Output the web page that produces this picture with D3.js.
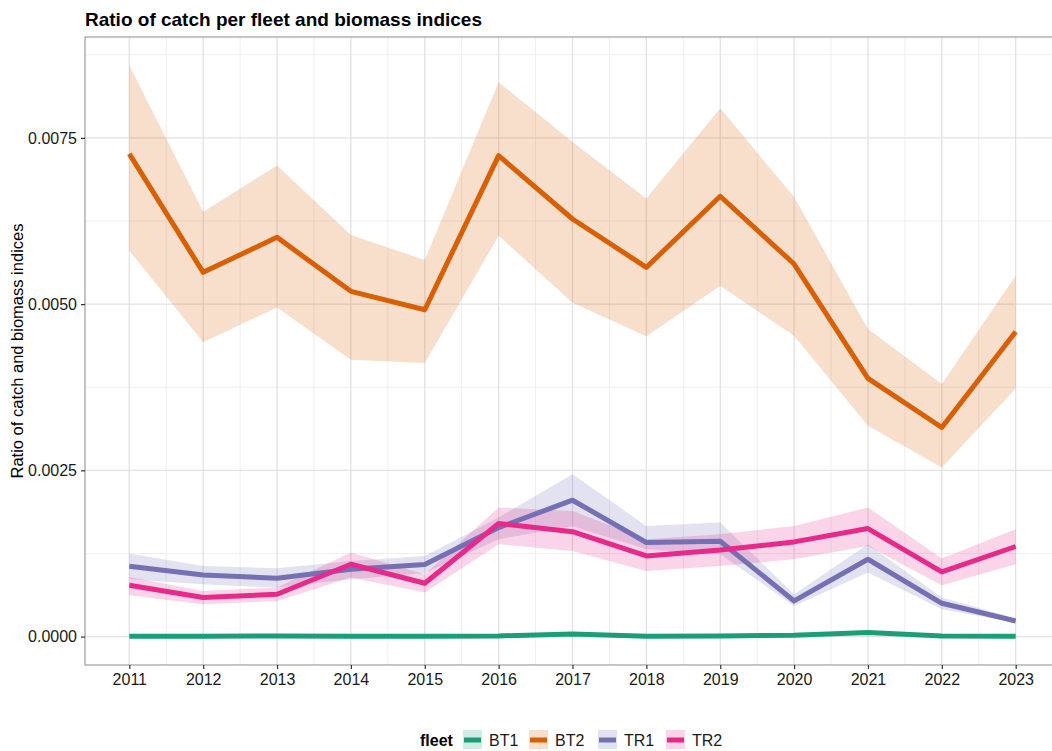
<!DOCTYPE html>
<html>
<head>
<meta charset="utf-8">
<script src="https://cdn.jsdelivr.net/npm/d3@7"></script>
<style>
  body { margin: 0; background: #fff; }
  svg { display: block; font-family: "Liberation Sans", Arial, sans-serif; }
</style>
</head>
<body>
<svg id="chart" width="1052" height="751"></svg>
<script>
// Ratio of catch per fleet to biomass indices, with confidence ribbons
const years = [2011, 2012, 2013, 2014, 2015, 2016, 2017, 2018, 2019, 2020, 2021, 2022, 2023];
const fleets = ["BT1", "BT2", "TR1", "TR2"];
const fleetColors = ["#1b9e77", "#d95f02", "#7570b3", "#e7298a"];
const yTicks = [0, 0.0025, 0.005, 0.0075];

const bt1Mean = [0.000005, 0.000005, 0.00001, 0.000005, 0.000005, 0.00001, 0.00004, 0.000005, 0.00001, 0.00002, 0.00006, 0.00001, 0.000005];
const bt1Low  = [0.000002, 0.000002, 0.000005, 0.000002, 0.000002, 0.000005, 0.00003, 0.000002, 0.000005, 0.000012, 0.000045, 0.000005, 0.000002];
const bt1High = [0.00001, 0.00001, 0.000016, 0.00001, 0.00001, 0.000016, 0.00005, 0.00001, 0.000016, 0.00003, 0.000075, 0.000016, 0.00001];

const bt2Mean = [0.007259, 0.005478, 0.006005, 0.005192, 0.004915, 0.007233, 0.006280, 0.005553, 0.006622, 0.005603, 0.003883, 0.003145, 0.004584];
const bt2Low  = [0.005803, 0.004425, 0.004951, 0.004163, 0.004113, 0.006029, 0.005021, 0.004515, 0.005277, 0.004524, 0.003170, 0.002543, 0.003732];
const bt2High = [0.008588, 0.006390, 0.007083, 0.006040, 0.005663, 0.008338, 0.007440, 0.006590, 0.007946, 0.006611, 0.004625, 0.003797, 0.005427];

const tr1Mean = [0.001058, 0.000927, 0.000877, 0.001013, 0.001084, 0.001640, 0.002051, 0.001415, 0.001434, 0.000536, 0.001163, 0.000501, 0.000235];
const tr1Low  = [0.000862, 0.000787, 0.000737, 0.000862, 0.000953, 0.001464, 0.001660, 0.001314, 0.001240, 0.000461, 0.000963, 0.000411, 0.000211];
const tr1High = [0.001249, 0.001063, 0.001028, 0.001138, 0.001213, 0.001791, 0.002443, 0.001665, 0.001716, 0.000637, 0.001389, 0.000587, 0.000271];

const tr2Mean = [0.000772, 0.000587, 0.000637, 0.001088, 0.000802, 0.001701, 0.001577, 0.001213, 0.001303, 0.001424, 0.001625, 0.000972, 0.001355];
const tr2Low  = [0.000622, 0.000486, 0.000536, 0.000888, 0.000662, 0.001389, 0.001288, 0.000987, 0.001063, 0.001163, 0.001364, 0.000772, 0.001088];
const tr2High = [0.000897, 0.000686, 0.000737, 0.001264, 0.000938, 0.001941, 0.001890, 0.001464, 0.001540, 0.001665, 0.001941, 0.001174, 0.001615];

const series = [
  { name: "BT1", mean: bt1Mean, low: bt1Low, high: bt1High },
  { name: "BT2", mean: bt2Mean, low: bt2Low, high: bt2High },
  { name: "TR1", mean: tr1Mean, low: tr1Low, high: tr1High },
  { name: "TR2", mean: tr2Mean, low: tr2Low, high: tr2High }
];

const svg = d3.select("#chart");
// the panel runs slightly past the right edge of the canvas
const panel = { left: 85, top: 37, right: 1060, bottom: 665 };

// ggplot-style 5% expansion on y, 0.6 units on x
const yMin = d3.min(series, s => d3.min(s.low));
const yMax = d3.max(series, s => d3.max(s.high));
const yPad = (yMax - yMin) * 0.05;
const y = d3.scaleLinear().domain([yMin - yPad, yMax + yPad]).range([panel.bottom, panel.top]);
const x = d3.scaleLinear().domain([years[0] - 0.6, years[years.length - 1] + 0.6]).range([panel.left, panel.right]);
const color = d3.scaleOrdinal().domain(fleets).range(fleetColors);

// grid
const grid = svg.append("g");
const minorY = yTicks.slice(0, -1).map((t, i) => (t + yTicks[i + 1]) / 2).concat([yTicks[yTicks.length - 1] + 0.00125]);
const minorX = years.slice(0, -1).map(v => v + 0.5);
grid.selectAll(".minY").data(minorY).join("line")
  .attr("x1", panel.left).attr("x2", panel.right)
  .attr("y1", d => y(d)).attr("y2", d => y(d))
  .attr("stroke", "#efefef").attr("stroke-width", 1);
grid.selectAll(".minX").data(minorX).join("line")
  .attr("y1", panel.top).attr("y2", panel.bottom)
  .attr("x1", d => x(d)).attr("x2", d => x(d))
  .attr("stroke", "#efefef").attr("stroke-width", 1);
grid.selectAll(".majY").data(yTicks).join("line")
  .attr("x1", panel.left).attr("x2", panel.right)
  .attr("y1", d => y(d)).attr("y2", d => y(d))
  .attr("stroke", "#e2e2e2").attr("stroke-width", 1.3);
grid.selectAll(".majX").data(years).join("line")
  .attr("y1", panel.top).attr("y2", panel.bottom)
  .attr("x1", d => x(d)).attr("x2", d => x(d))
  .attr("stroke", "#e2e2e2").attr("stroke-width", 1.3);

// ribbons
const area = d3.area()
  .x((d, i) => x(years[i]))
  .y0(d => y(d[0]))
  .y1(d => y(d[1]));
svg.append("g").selectAll("path").data(series).join("path")
  .attr("d", s => area(s.low.map((v, i) => [v, s.high[i]])))
  .attr("fill", s => color(s.name))
  .attr("fill-opacity", 0.2);

// mean lines
const line = d3.line().x((d, i) => x(years[i])).y(d => y(d));
svg.append("g").selectAll("path").data(series).join("path")
  .attr("d", s => line(s.mean))
  .attr("fill", "none")
  .attr("stroke", s => color(s.name))
  .attr("stroke-width", 5)
  .attr("stroke-linejoin", "round");

// panel border
svg.append("rect")
  .attr("x", panel.left).attr("y", panel.top)
  .attr("width", panel.right - panel.left).attr("height", panel.bottom - panel.top)
  .attr("fill", "none").attr("stroke", "#a6a6a6").attr("stroke-width", 1.3);

// axes
const xAxis = d3.axisBottom(x).tickValues(years).tickFormat(d3.format("d")).tickSize(4).tickPadding(5);
const yAxis = d3.axisLeft(y).tickValues(yTicks).tickFormat(d3.format(".4f")).tickSize(4).tickPadding(4);
const gx = svg.append("g").attr("transform", `translate(0,${panel.bottom})`).call(xAxis);
const gy = svg.append("g").attr("transform", `translate(${panel.left},0)`).call(yAxis);
[gx, gy].forEach(g => {
  g.select(".domain").remove();
  g.selectAll(".tick line").attr("stroke", "#333").attr("stroke-width", 1.2);
  g.selectAll(".tick text").attr("fill", "#1a1a1a").style("font-size", "16px")
    .style("font-family", "'Liberation Sans', Arial, sans-serif");
});

// titles
svg.append("text")
  .attr("x", panel.left).attr("y", 26)
  .style("font-size", "19px").style("font-weight", "bold").attr("fill", "#000")
  .text("Ratio of catch per fleet and biomass indices");
svg.append("text")
  .attr("transform", `translate(23,${(panel.top + panel.bottom) / 2}) rotate(-90)`)
  .attr("text-anchor", "middle")
  .style("font-size", "16.5px").attr("fill", "#000")
  .text("Ratio of catch and biomass indices");

// legend
const legend = svg.append("g").attr("transform", "translate(0,740)");
legend.append("text").attr("x", 420).attr("y", 6)
  .style("font-size", "16px").style("font-weight", "bold").attr("fill", "#000").text("fleet");
const keyX = [463, 529, 598, 666];
const items = legend.selectAll(".item").data(fleets).join("g")
  .attr("transform", (d, i) => `translate(${keyX[i]},0)`);
items.append("rect").attr("x", 0).attr("y", -10).attr("width", 19).attr("height", 19)
  .attr("fill", d => color(d)).attr("fill-opacity", 0.2);
items.append("line").attr("x1", 1).attr("x2", 18).attr("y1", 0).attr("y2", 0)
  .attr("stroke", d => color(d)).attr("stroke-width", 5);
items.append("text").attr("x", 26).attr("y", 6)
  .style("font-size", "16px").attr("fill", "#1a1a1a").text(d => d);
</script>
</body>
</html>
